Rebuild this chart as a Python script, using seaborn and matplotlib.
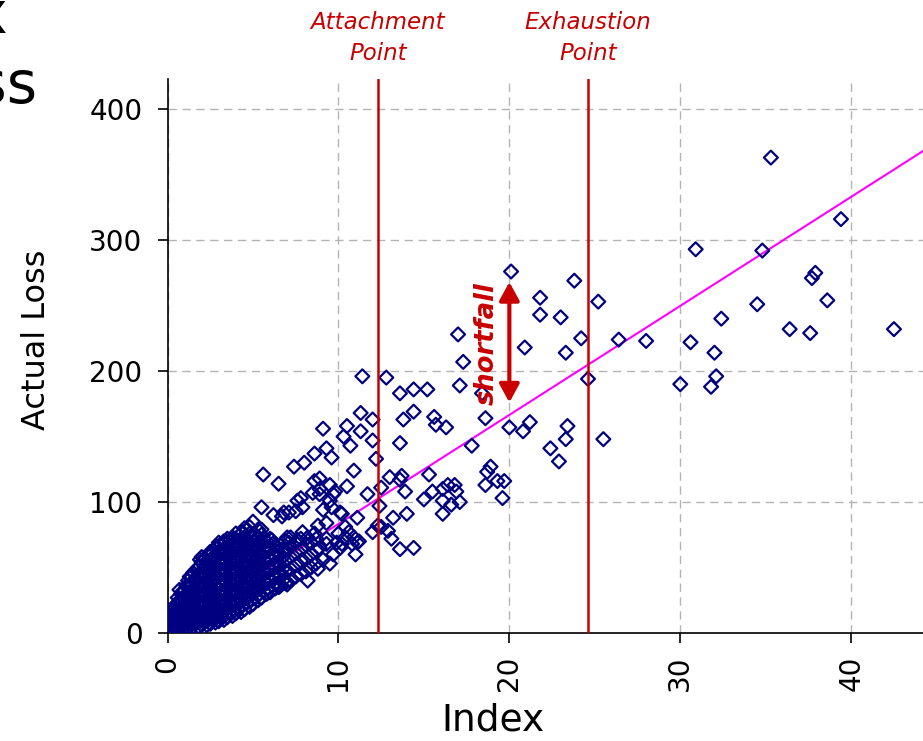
import matplotlib
matplotlib.use("Agg")
import matplotlib.pyplot as plt
import seaborn as sns
import pandas as pd

# ---------------- data ----------------
# dense core near the origin: index value -> actual losses
core_columns = {
    0.1: [2, 6, 10, 14],
    0.3: [3, 8, 13, 18],
    0.5: [3, 7, 12, 17, 22],
    0.7: [4, 9, 14, 19, 25, 33],
    0.9: [5, 10, 15, 21, 27, 32],
    1.1: [5, 11, 17, 23, 29, 36],
    1.3: [5, 11, 17, 24, 30, 37, 43],
    1.5: [5, 10, 16, 22, 28, 34, 40, 46],
    1.8: [5, 11, 17, 24, 31, 38, 44, 50],
    2.0: [6, 12, 19, 26, 33, 40, 47, 54, 58],
    2.3: [6, 13, 20, 27, 34, 41, 48, 55],
    2.5: [7, 14, 21, 28, 35, 42, 49, 56, 62],
    2.8: [8, 15, 22, 29, 36, 43, 51, 59, 65],
    3.0: [9, 16, 23, 30, 38, 46, 54, 62, 69],
    3.3: [10, 17, 25, 33, 41, 49, 57, 64, 70],
    3.5: [12, 19, 27, 35, 43, 51, 59, 66, 72],
    3.8: [13, 21, 29, 37, 45, 53, 61, 68, 73],
    4.0: [15, 23, 31, 39, 47, 55, 63, 70, 76],
    4.3: [16, 24, 32, 40, 48, 56, 64, 72],
    4.5: [18, 26, 34, 42, 50, 58, 66, 73, 80],
    4.8: [20, 28, 36, 44, 52, 60, 68, 76],
    5.0: [22, 30, 38, 46, 54, 62, 70, 85],
    5.3: [25, 33, 41, 49, 57, 65, 73, 79],
    5.5: [27, 35, 43, 51, 59, 67, 75],
    5.8: [30, 38, 46, 54, 62, 70],
    6.0: [31, 40, 48, 56, 64, 72],
    6.3: [34, 42, 50, 58, 66],
    6.6: [36, 44, 52, 60, 67],
    6.9: [38, 47, 55, 63, 70],
    7.2: [40, 49, 58, 66, 73],
    7.5: [43, 52, 61, 69],
    7.8: [45, 55, 64, 72],
    8.1: [47, 57, 67],
    8.4: [50, 60, 69],
    8.7: [53, 63, 72],
}

# further points inside the same dense core, between the columns above
core_fill_columns = {
    0.2: [4, 8, 12, 16],
    0.4: [5, 10, 15, 20],
    0.6: [5, 10, 15, 21, 27],
    0.8: [6, 12, 18, 24, 30],
    1.0: [7, 14, 20, 26, 33],
    1.2: [8, 14, 20, 27, 34, 40],
    1.4: [8, 13, 19, 25, 31, 37, 43],
    1.65: [8, 14, 20, 27, 34, 41, 48],
    1.9: [9, 15, 22, 29, 36, 43, 51, 56],
    2.15: [9, 16, 23, 30, 37, 44, 51, 57],
    2.4: [10, 17, 24, 31, 38, 45, 52, 59],
    2.65: [11, 18, 25, 32, 39, 46, 54, 61],
    2.9: [12, 19, 26, 34, 42, 50, 58, 66],
    3.15: [13, 21, 29, 37, 45, 53, 61, 68],
    3.4: [14, 22, 30, 38, 46, 54, 62, 70],
    3.65: [16, 24, 32, 40, 48, 56, 64, 71],
    3.9: [17, 25, 33, 41, 49, 57, 65, 72],
    4.15: [19, 27, 35, 43, 51, 59, 67, 74],
    4.4: [21, 29, 37, 45, 53, 61, 69, 77],
    4.65: [23, 31, 39, 47, 55, 63, 71, 79],
    4.9: [25, 33, 41, 49, 57, 65, 73],
    5.15: [27, 35, 43, 51, 59, 67, 75],
    5.4: [30, 38, 46, 54, 62, 70],
    5.65: [32, 40, 48, 56, 64, 72],
    5.9: [34, 42, 50, 58, 66],
    6.15: [36, 44, 52, 60, 68],
    6.45: [38, 46, 54, 62],
    6.75: [40, 49, 58],
}

tail_points = [
    (5.6, 121), (6.5, 114), (4.8, 81), (5.5, 79), (6.7, 89), (7.1, 92), (7.6, 101),
    (7.5, 93), (6.8, 92), (6.2, 90), (5.5, 96), (7.8, 103), (7.9, 96), (8.6, 116),
    (8.9, 118), (8.9, 110), (9.5, 113), (8.5, 107), (9.8, 108), (10.9, 124), (10.5, 112),
    (11.7, 106), (12.5, 111), (9.1, 94), (9.6, 96), (10.1, 92), (11.1, 88), (12.4, 97),
    (13.2, 88), (8.8, 82), (9.3, 84), (10.4, 81), (12.0, 77), (12.3, 82), (12.5, 81),
    (12.9, 78), (13.1, 72), (13.6, 64), (14.4, 65), (10.6, 77), (10.9, 73), (11.1, 69),
    (8.6, 76), (8.2, 73), (9.9, 69), (9.3, 72), (10.0, 76), (8.2, 40), (7.0, 37),
    (8.8, 49), (9.5, 53), (9.7, 60), (9.3, 68), (8.9, 65), (10.1, 65), (10.4, 73),
    (6.5, 35), (5.8, 30), (9.1, 56), (9.5, 101), (9.7, 106), (8.9, 106), (10.2, 91),
    (11.0, 60), (10.8, 68), (11.2, 70), (10.2, 68), (7.6, 71), (7.9, 77), (6.1, 71),
    (7.0, 73), (6.4, 62), (7.1, 69),
]

mid_points = [
    (7.4, 127), (8.0, 130), (8.6, 137), (9.3, 141), (9.6, 134), (9.1, 156), (10.3, 150),
    (10.5, 158), (10.7, 143), (11.3, 154), (11.3, 168), (12.0, 163), (12.0, 147),
    (12.2, 133), (11.4, 196), (12.8, 195), (13.6, 183), (14.4, 186), (15.2, 186),
    (13.8, 163), (14.4, 169), (15.6, 165), (15.7, 159), (16.3, 157), (13.6, 145),
    (17.0, 228), (17.3, 207), (17.1, 189), (18.4, 183), (18.6, 164), (20.0, 157),
    (20.8, 154), (21.2, 161), (17.8, 143), (13.0, 119), (13.7, 120), (13.6, 117),
    (13.9, 108), (14.0, 91), (15.3, 121), (15.0, 102), (15.5, 108), (16.1, 110),
    (16.4, 113), (16.8, 113), (16.9, 108), (16.1, 101), (16.6, 98), (17.1, 100),
    (16.1, 91), (18.9, 127), (18.7, 123), (18.6, 113), (19.3, 116), (19.7, 116),
    (19.6, 103),
]

outer_points = [
    (20.1, 276), (21.8, 256), (21.8, 243), (23.0, 241), (20.9, 218), (23.8, 269),
    (25.2, 253), (24.2, 225), (23.3, 214), (24.6, 194), (25.5, 148), (23.4, 158),
    (23.3, 148), (22.4, 141), (22.9, 131), (26.4, 224), (28.0, 223), (30.9, 293),
    (30.6, 222), (30.0, 190), (32.0, 214), (32.1, 196), (31.8, 188), (32.4, 240),
    (34.5, 251), (34.8, 292), (35.3, 363), (36.4, 232), (37.6, 229), (37.7, 271),
    (37.9, 275), (38.6, 254), (39.4, 316), (42.5, 232),
]

fit_x = [0, 44.2]
fit_y = [0, 368]
attachment_x = 12.3
exhaustion_x = 24.6
shortfall_x = 20.0
shortfall_y = [176, 268]
x_ticks = [0, 10, 20, 30, 40]
y_ticks = [0, 100, 200, 300, 400]

# ---------------- build table ----------------
rows = [(x, y) for x, ys in core_columns.items() for y in ys]
rows += [(x, y) for x, ys in core_fill_columns.items() for y in ys]
rows += tail_points + mid_points + outer_points
df = pd.DataFrame(rows, columns=["Index", "Actual Loss"])

sns.set_style("white")
plt.rcParams["font.family"] = ["DejaVu Sans"]

W, H = 923, 741
fig = plt.figure(figsize=(W / 100, H / 100), dpi=100)
ax = fig.add_axes([167.5 / W, 1 - 633 / H, (W - 167.5) / W, (633 - 79) / H])

RED = "#C80000"

sns.scatterplot(data=df, x="Index", y="Actual Loss", marker="D", s=50,
                facecolor="none", edgecolor="#000080", color="#000080",
                linewidth=1.6, ax=ax, zorder=3, legend=False)
for coll in ax.collections:
    coll.set_facecolor("none")

ax.plot(fit_x, fit_y, color="#FF00FF", lw=1.5, zorder=2)
ax.axvline(attachment_x, color=RED, lw=1.8, zorder=4)
ax.axvline(exhaustion_x, color=RED, lw=1.8, zorder=4)

ax.set_xlim(0, 44.2)
ax.set_ylim(0, 423)
ax.set_xticks(x_ticks)
ax.set_yticks(y_ticks)
ax.set_xticklabels([str(t) for t in x_ticks], rotation=90)
ax.grid(True, color="#B4B4B4", linestyle=(0, (6, 4)), linewidth=1)
ax.set_axisbelow(True)

sns.despine(ax=ax)
for side in ("left", "bottom"):
    ax.spines[side].set_color("black")
    ax.spines[side].set_linewidth(1.2)

ax.tick_params(axis="both", which="major", bottom=True, left=True, direction="out",
               length=7, width=1.2, color="black", labelcolor="black", labelsize=20)
ax.tick_params(axis="y", pad=11)
ax.tick_params(axis="x", pad=9)

ax.set_xlabel("Index", fontsize=27, va="center", color="black")
ax.xaxis.set_label_coords(0.431, -0.158)
ax.set_ylabel("Actual Loss", fontsize=23, va="center", color="black")
ax.yaxis.set_label_coords(-0.174, 0.529)

xt = ax.get_xaxis_transform()
ax.text(attachment_x, 1.074, "Attachment\nPoint", transform=xt, ha="center",
        va="center", color=RED, fontsize=16.5, style="italic", linespacing=1.45,
        multialignment="center", clip_on=False)
ax.text(exhaustion_x, 1.074, "Exhaustion\nPoint", transform=xt, ha="center",
        va="center", color=RED, fontsize=16.5, style="italic", linespacing=1.45,
        multialignment="center", clip_on=False)

ax.annotate("", xy=(shortfall_x, shortfall_y[1]), xytext=(shortfall_x, shortfall_y[0]),
            arrowprops=dict(arrowstyle="<|-|>,head_length=0.55,head_width=0.3",
                            color=RED, lw=3, mutation_scale=20, shrinkA=0, shrinkB=0),
            zorder=5)
ax.text(18.7, 221, "shortfall", rotation=90, ha="center", va="center",
        fontsize=18.5, fontweight="bold", style="italic", color=RED, zorder=5)

# cropped slide title fragment at the top-left (cut off in the reference too)
fig.text(8 / W, 1 - 33 / H, "Index", ha="right", va="baseline", fontsize=42, color="black")
fig.text(37 / W, 1 - 103 / H, "Loss", ha="right", va="baseline", fontsize=42, color="black")

fig.savefig("out.png", dpi=100)
